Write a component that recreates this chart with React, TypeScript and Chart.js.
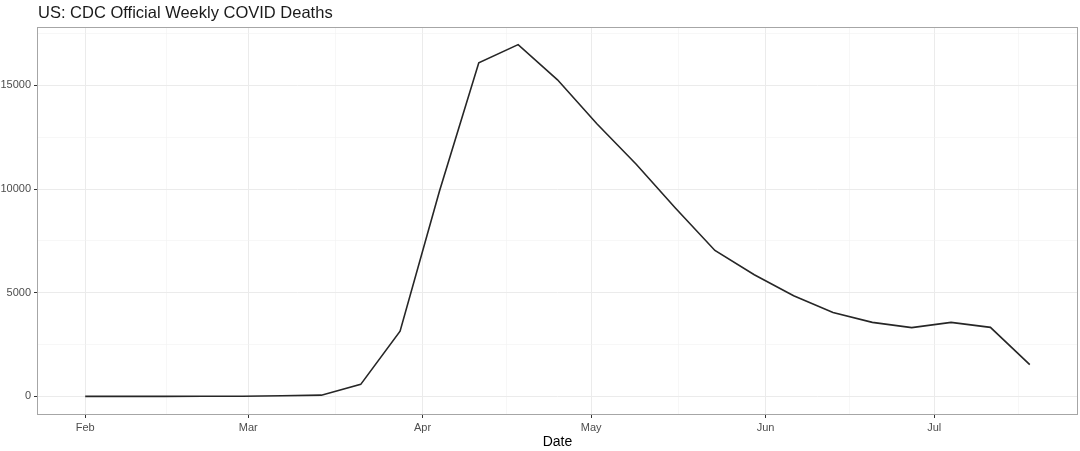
import React, { useEffect, useRef } from "react";
import { Chart, registerables } from "chart.js";

Chart.register(...registerables);

// Week ending dates (days since 2020-02-01)
const weekDays = [0, 7, 14, 21, 28, 35, 42, 49, 56, 63, 70, 77, 84, 91, 98, 105, 112, 119, 126, 133, 140, 147, 154, 161, 168];
const weekLabels = ["2020-02-01", "2020-02-08", "2020-02-15", "2020-02-22", "2020-02-29", "2020-03-07", "2020-03-14", "2020-03-21", "2020-03-28", "2020-04-04", "2020-04-11", "2020-04-18", "2020-04-25", "2020-05-02", "2020-05-09", "2020-05-16", "2020-05-23", "2020-05-30", "2020-06-06", "2020-06-13", "2020-06-20", "2020-06-27", "2020-07-04", "2020-07-11", "2020-07-18"];
const deaths = [0, 1, 3, 5, 10, 30, 60, 580, 3150, 9900, 16090, 16970, 15270, 13150, 11200, 9080, 7040, 5870, 4860, 4050, 3570, 3320, 3570, 3330, 1530];

const monthDays = [0, 29, 60, 90, 121, 151];
const monthLabels = ["Feb", "Mar", "Apr", "May", "Jun", "Jul"];
const xMinorDays = [14.5, 44.5, 75, 105.5, 136, 166];
const yMajor = [0, 5000, 10000, 15000];
const yMinor = [2500, 7500, 12500, 17500];

const titleText = "US: CDC Official Weekly COVID Deaths";
const xTitle = "Date";

const FONT = "'Liberation Sans', Arial, sans-serif";

export default function App() {
  const ref = useRef<HTMLCanvasElement>(null);
  useEffect(() => {
    document.body.style.margin = "0";
    const ctx = ref.current!;
    const dmax = Math.max(...deaths);
    const dmin = 0;
    const yPad = (dmax - dmin) * 0.05;
    const xPad = (weekDays[weekDays.length - 1] - weekDays[0]) * 0.05;

    const isMajorX = (v: number) => monthDays.includes(v);
    const isMajorY = (v: number) => yMajor.includes(v);

    const decor = {
      id: "decor",
      afterDraw(chart: any) {
        const c = chart.ctx;
        const a = chart.chartArea;
        c.save();
        c.strokeStyle = "#a6a6a6";
        c.lineWidth = 1;
        c.strokeRect(Math.round(a.left) - 0.5, Math.round(a.top) + 0.5, Math.round(a.right - a.left) + 1, Math.round(a.bottom - a.top));
        c.fillStyle = "#1a1a1a";
        c.font = `16.5px ${FONT}`;
        c.textAlign = "left";
        c.textBaseline = "alphabetic";
        c.fillText(titleText, a.left, 18);
        c.fillStyle = "#000000";
        c.font = `14px ${FONT}`;
        c.textAlign = "center";
        c.fillText(xTitle, (a.left + a.right) / 2, 446);
        c.restore();
      },
    };

    const chart = new Chart(ctx, {
      type: "line",
      data: {
        labels: weekLabels,
        datasets: [
          {
            label: "Deaths",
            data: weekDays.map((d, i) => ({ x: d, y: deaths[i] })),
            borderColor: "#262626",
            borderWidth: 1.6,
            pointRadius: 0,
            fill: false,
            tension: 0,
          },
        ],
      },
      options: {
        animation: false,
        responsive: false,
        maintainAspectRatio: false,
        layout: { padding: { top: 27, right: 3, left: 0, bottom: 0 } },
        plugins: { legend: { display: false }, tooltip: { enabled: false }, title: { display: false } },
        scales: {
          x: {
            type: "linear",
            min: weekDays[0] - xPad,
            max: weekDays[weekDays.length - 1] + xPad,
            afterBuildTicks: (s: any) => {
              s.ticks = [...monthDays, ...xMinorDays].sort((a, b) => a - b).map((v) => ({ value: v }));
            },
            afterFit: (s: any) => {
              s.height = 37;
            },
            grid: {
              color: (c: any) => (c.tick && isMajorX(c.tick.value) ? "#ebebeb" : "#f2f2f2"),
              lineWidth: (c: any) => (c.tick && isMajorX(c.tick.value) ? 1 : 0.6),
              tickColor: (c: any) => (c.tick && isMajorX(c.tick.value) ? "#333333" : "rgba(0,0,0,0)"),
              tickLength: 4,
              drawTicks: true,
            },
            border: { display: false },
            ticks: {
              autoSkip: false,
              maxRotation: 0,
              padding: 3,
              color: "#4d4d4d",
              font: { family: FONT, size: 11 },
              callback: (v: any) => {
                const i = monthDays.indexOf(Number(v));
                return i >= 0 ? monthLabels[i] : "";
              },
            },
          },
          y: {
            type: "linear",
            min: dmin - yPad,
            max: dmax + yPad,
            afterBuildTicks: (s: any) => {
              s.ticks = [...yMajor, ...yMinor].sort((a, b) => a - b).map((v) => ({ value: v }));
            },
            afterFit: (s: any) => {
              s.width = 38;
            },
            grid: {
              color: (c: any) => (c.tick && isMajorY(c.tick.value) ? "#ebebeb" : "#f2f2f2"),
              lineWidth: (c: any) => (c.tick && isMajorY(c.tick.value) ? 1 : 0.6),
              tickColor: (c: any) => (c.tick && isMajorY(c.tick.value) ? "#333333" : "rgba(0,0,0,0)"),
              tickLength: 4,
              drawTicks: true,
            },
            border: { display: false },
            ticks: {
              autoSkip: false,
              padding: 3,
              color: "#4d4d4d",
              font: { family: FONT, size: 11 },
              callback: (v: any) => (isMajorY(Number(v)) ? String(v) : ""),
            },
          },
        },
      },
      plugins: [decor],
    } as any);
    return () => chart.destroy();
  }, []);
  return (
    <div style={{ position: "absolute", left: 0, top: 0, width: 1080, height: 451, background: "#ffffff" }}>
      <canvas ref={ref} width={1080} height={451} style={{ width: 1080, height: 451 }} />
    </div>
  );
}
